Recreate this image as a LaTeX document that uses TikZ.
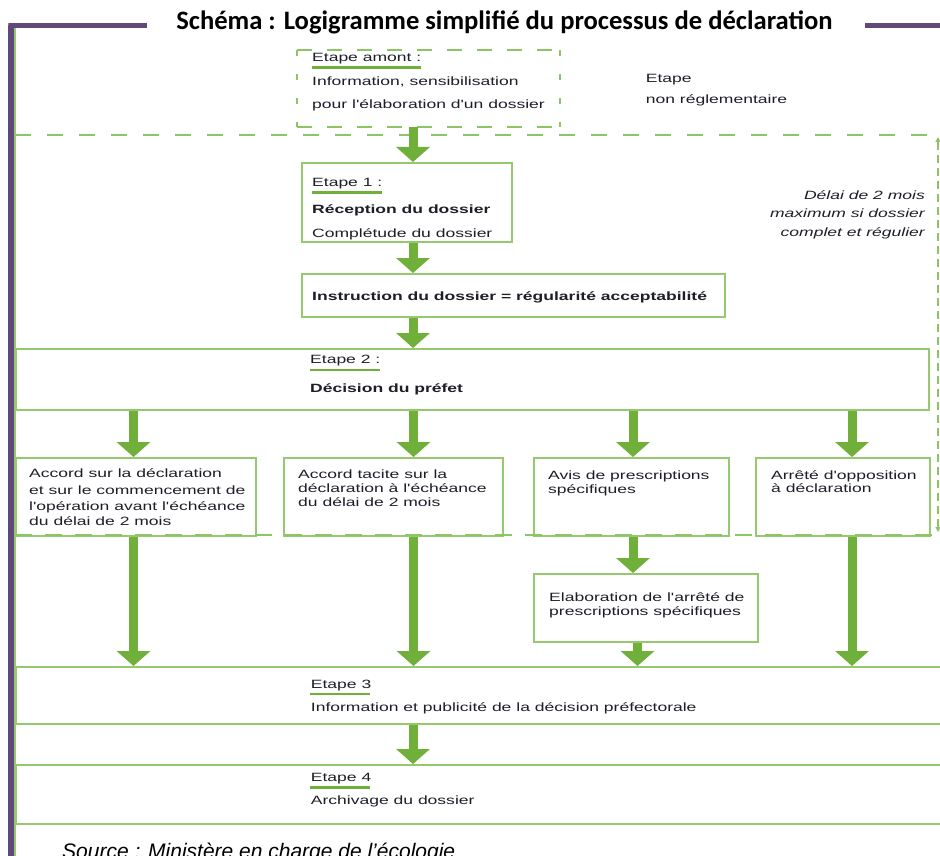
\documentclass[tikz,border=0pt]{standalone}
\usepackage{fontspec}
\setmainfont{Liberation Sans}
\newfontfamily\af[FakeStretch=1.46]{Liberation Sans}
\newfontfamily\tf{Carlito}
\usetikzlibrary{arrows.meta}
\definecolor{purp}{RGB}{96,73,122}
\definecolor{bgreen}{RGB}{150,200,110}
\definecolor{agreen}{RGB}{112,176,58}
\definecolor{dgreen}{RGB}{140,198,100}
\definecolor{txtc}{RGB}{30,30,40}
\begin{document}
\begin{tikzpicture}[x=1pt,y=-1pt,
  box/.style={draw=bgreen,line width=2pt,inner sep=0pt,anchor=north west,fill=white},
  ghost/.style={inner sep=0pt,anchor=north west},
  arr/.style={draw=agreen,line width=9pt,-{Triangle[width=33pt,length=15pt]}},
  txt/.style={anchor=base west,inner sep=0pt,font=\af\fontsize{12}{14}\selectfont,text=txtc},
  btxt/.style={txt,font=\af\bfseries\fontsize{12}{14}\selectfont},
  itxt/.style={txt,anchor=base east,font=\af\itshape\fontsize{12}{14}\selectfont},
  uline/.style={draw=agreen,line width=2.5pt},
  hdash/.style={draw=dgreen,line width=2pt,dash pattern=on 15pt off 15pt},
  vdash/.style={draw=dgreen,line width=2pt,dash pattern=on 6pt off 18pt},
  bigdash/.style={draw=dgreen,line width=2pt,dash pattern=on 16pt off 16pt},
  rdash/.style={draw=dgreen,line width=2pt,dash pattern=on 8pt off 5pt},
  botdash/.style={draw=dgreen,line width=2pt,dash pattern=on 17pt off 13pt},
  frame/.style={draw=purp,line width=5.5pt}]
\useasboundingbox[fill=white] (0,0) rectangle (940,856);

% purple frame and inner green line
\draw[frame] (147,25.5) -- (8.3,25.5) -- (11,25.5) -- (11,860);
\draw[frame] (865,25.5) -- (945,25.5);
\draw[draw=bgreen,line width=1.5pt] (15,28) -- (15,860);

% title
\node[anchor=base,inner sep=0pt,font=\tf\bfseries\fontsize{26.6}{30}\selectfont] (title) at (504.5,30) {Schéma : Logigramme simplifié du processus de déclaration};

% dashed upstream box
\node[ghost,minimum width=263pt,minimum height=77pt] (amont) at (297,50) {};
\draw[hdash] (amont.north west) -- (amont.north east);
\draw[hdash] (amont.south west) -- (amont.south east);
\draw[vdash] (amont.north west) -- (amont.south west);
\draw[vdash] (amont.north east) -- (amont.south east);

% big dashed bracket
\coordinate (dtl) at (15,135);
\coordinate (dtr) at (936,135);
\coordinate (drt) at (938,137);
\coordinate (drb) at (938,532);
\coordinate (dbl) at (15,535);
\coordinate (dbr) at (935,535);
\draw[bigdash] (dtl) -- (dtr);
\draw[rdash,{Triangle[width=5pt,length=5pt]}-{Triangle[width=5pt,length=5pt]}] (drt) -- (drb);

% boxes
\node[box,minimum width=210pt,minimum height=79pt] (e1) at (301,162) {};
\node[box,minimum width=423pt,minimum height=43pt] (instr) at (301,273) {};
\node[box,minimum width=913pt,minimum height=61pt] (e2) at (15,348) {};
\node[box,minimum width=240pt,minimum height=78pt] (A) at (15,457) {};
\node[box,minimum width=219pt,minimum height=78pt] (B) at (283,457) {};
\node[box,minimum width=195pt,minimum height=78pt] (C) at (533,457) {};
\node[box,minimum width=174pt,minimum height=78pt] (D) at (755,457) {};
\node[box,minimum width=224pt,minimum height=68pt] (E) at (533,573) {};
\node[box,minimum width=935pt,minimum height=57pt] (e3) at (15,666) {};
\node[box,minimum width=935pt,minimum height=59pt] (e4) at (15,764) {};

\draw[botdash] (dbl) -- (dbr);

% arrows
\coordinate (xm) at (413,0);
\coordinate (xa) at (133.5,0);
\coordinate (xb) at (413.5,0);
\coordinate (xc) at (633,0);
\coordinate (xd) at (852,0);
\coordinate (xe) at (637.5,0);
\draw[arr] (amont.south -| xm) -- (e1.north -| xm);
\draw[arr] (e1.south -| xm) -- (instr.north -| xm);
\draw[arr] (instr.south -| xm) -- (e2.north -| xm);
\draw[arr] (e2.south -| xa) -- (A.north -| xa);
\draw[arr] (e2.south -| xb) -- (B.north -| xb);
\draw[arr] (e2.south -| xc) -- (C.north -| xc);
\draw[arr] (e2.south -| xd) -- (D.north -| xd);
\draw[arr] (A.south -| xa) -- (e3.north -| xa);
\draw[arr] (B.south -| xb) -- (e3.north -| xb);
\draw[arr] (C.south -| xc) -- (E.north -| xc);
\draw[arr] (E.south -| xe) -- (e3.north -| xe);
\draw[arr] (D.south -| xd) -- (e3.north -| xd);
\draw[arr] (e3.south -| xm) -- (e4.north -| xm);

% texts
\node[txt] (ta1) at (312,61.7) {Etape amont :};
\draw[uline] (312,67.7) -- (421,67.7);
\node[txt] (ta2) at (312,86) {Information, sensibilisation};
\node[txt] (ta3) at (312,109) {pour l'élaboration d'un dossier};
\node[txt] (tn1) at (645.7,82.7) {Etape};
\node[txt] (tn2) at (645.7,103.5) {non réglementaire};

\node[txt] (t11) at (312,186) {Etape 1 :};
\draw[uline] (312,192.3) -- (382,192.3);
\node[btxt] (t12) at (312,213.3) {Réception du dossier};
\node[txt] (t13) at (312,237.3) {Complétude du dossier};
\node[btxt] (ti) at (312,300.7) {Instruction du dossier = régularité acceptabilité};

\node[txt] (t21) at (310,363.3) {Etape 2 :};
\draw[uline] (310,370) -- (380,370);
\node[btxt] (t22) at (310,392.3) {Décision du préfet};

\node[itxt] (d1) at (925,200) {Délai de 2 mois};
\node[itxt] (d2) at (925,217.7) {maximum si dossier};
\node[itxt] (d3) at (925,236.7) {complet et régulier};

\node[txt] (tA1) at (29,477.3) {Accord sur la déclaration};
\node[txt] (tA2) at (29,494) {et sur le commencement de};
\node[txt] (tA3) at (29,510) {l'opération avant l'échéance};
\node[txt] (tA4) at (29,525.7) {du délai de 2 mois};

\node[txt] (tB1) at (298,478.3) {Accord tacite sur la};
\node[txt] (tB2) at (298,492.3) {déclaration à l'échéance};
\node[txt] (tB3) at (298,506.7) {du délai de 2 mois};

\node[txt] (tC1) at (548,479.3) {Avis de prescriptions};
\node[txt] (tC2) at (548,493) {spécifiques};

\node[txt] (tD1) at (771,479.3) {Arrêté d'opposition};
\node[txt] (tD2) at (771,492) {à déclaration};

\node[txt] (tE1) at (549,601.7) {Elaboration de l'arrêté de};
\node[txt] (tE2) at (549,615) {prescriptions spécifiques};

\node[txt] (t31) at (310.7,688.3) {Etape 3};
\draw[uline] (310,694) -- (370,694);
\node[txt] (t32) at (310.7,711.7) {Information et publicité de la décision préfectorale};

\node[txt] (t41) at (310.7,781.7) {Etape 4};
\draw[uline] (310,787.3) -- (370,787.3);
\node[txt] (t42) at (310.7,804) {Archivage du dossier};

\node[anchor=base west,inner sep=0pt,font=\itshape\fontsize{21}{25}\selectfont] (src) at (62,858) {Source : Ministère en charge de l'écologie};
\end{tikzpicture}
\end{document}
